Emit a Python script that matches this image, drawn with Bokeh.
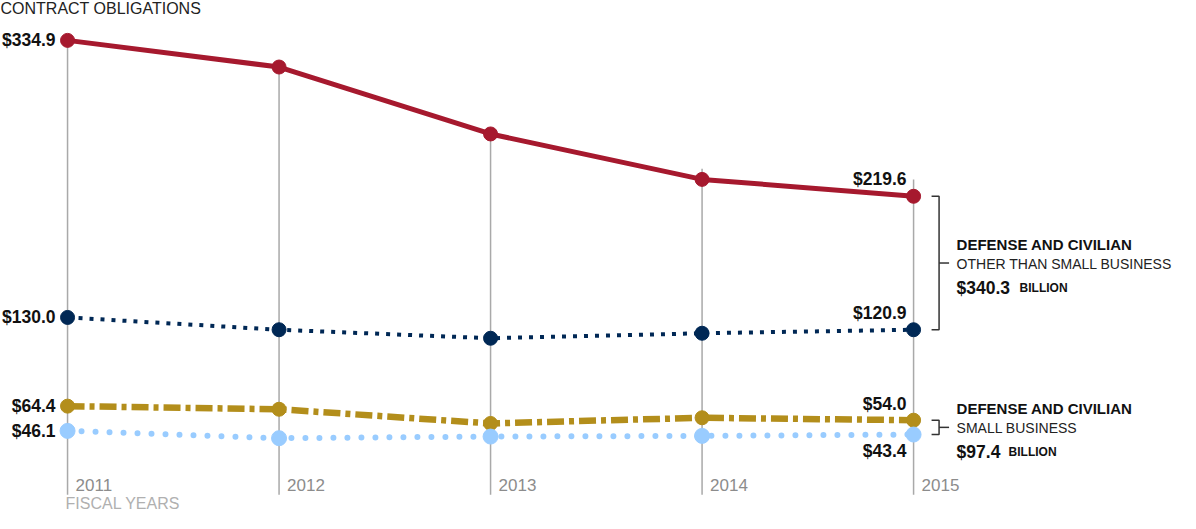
from bokeh.plotting import figure
from bokeh.embed import file_html
from bokeh.resources import INLINE
from bokeh.core.properties import value

# ---------------- data ----------------
years = [2011, 2012, 2013, 2014, 2015]
year_labels = ["2011", "2012", "2013", "2014", "2015"]
defense_other = [334.9, 315.2, 265.7, 232.1, 219.6]    # red
civilian_other = [130.0, 120.9, 114.6, 118.3, 120.9]   # navy
defense_small = [64.4, 62.1, 51.6, 55.8, 54.0]         # gold
civilian_small = [46.1, 40.7, 41.9, 42.4, 43.4]        # light blue
grid_top = [334.9, 315.2, 265.7, 240.0, 232.0]
total_other = "$340.3"
total_small = "$97.4"

# ---------------- layout ----------------
W, H = 1180, 513
X0, X1 = 2010.683, 2016.262
Y0, Y1 = -15.0, 364.4
PX = W / (X1 - X0)
PY = H / (Y1 - Y0)
TS = -6.5  # text baseline correction (px, downward positive)


def dx(px):
    return px / PX


def dy(px):  # screen px downward -> data units
    return -px / PY


def ty(px):  # text offset incl. correction
    return dy(px + TS)


RED = "#a6192e"
NAVY = "#002855"
GOLD = "#b38e1b"
LBLUE = "#99ccff"
FONT = value("Liberation Sans")

p = figure(width=W, height=H, x_range=(X0, X1), y_range=(Y0, Y1),
           x_axis_type=None, y_axis_type=None, toolbar_location=None,
           output_backend="svg", min_border=0, outline_line_color=None,
           background_fill_color="white", border_fill_color="white")
p.grid.visible = False

# vertical year lines
p.segment(x0=years, y0=[dy(1.5)] * len(years), x1=years, y1=grid_top,
          line_color="#a9a9a9", line_width=1.5)

# series lines
p.line(years, defense_other, line_color=RED, line_width=5)
p.line(years, civilian_other, line_color=NAVY, line_width=4, line_dash="4 7")
p.line(years, defense_small, line_color=GOLD, line_width=6.5, line_dash="17 5 5 5")
p.line(years, civilian_small, line_color=LBLUE, line_width=6, line_dash="0 14",
       line_cap="round")

p.scatter(years, defense_other, size=14, color=RED)
p.scatter(years, civilian_other, size=14, color=NAVY)
p.scatter(years, defense_small, size=14, color=GOLD)
p.scatter(years, civilian_small, size=15, color=LBLUE)

# title
p.text(x=[X0 + dx(0)], y=[Y1 + ty(22 - 8)], text=["CONTRACT OBLIGATIONS"],
       text_font=FONT, text_font_size="16px", text_color="#222222",
       text_align="left", text_baseline="alphabetic")

# start values (2011)
series = [defense_other, civilian_other, defense_small, civilian_small]
p.text(x=[years[0] - dx(12)] * 4, y=[s[0] + ty(6.5) for s in series],
       text=["$%.1f" % s[0] for s in series],
       text_font=FONT, text_font_size="17.5px", text_font_style="bold",
       text_color="#111111", text_align="right", text_baseline="alphabetic")

# end values (2015)
end_offsets = [-11, -10, -10, 23]
p.text(x=[years[-1] - dx(7)] * 4,
       y=[s[-1] + ty(o) for s, o in zip(series, end_offsets)],
       text=["$%.1f" % s[-1] for s in series],
       text_font=FONT, text_font_size="17.5px", text_font_style="bold",
       text_color="#111111", text_align="right", text_baseline="alphabetic")

# year labels
p.text(x=[yr + dx(8) for yr in years], y=[ty(-2)] * len(years), text=year_labels,
       text_font=FONT, text_font_size="17px", text_color="#8c8c8c",
       text_align="left", text_baseline="alphabetic")
p.text(x=[years[0] - dx(2)], y=[ty(16.5)], text=["FISCAL YEARS"],
       text_font=FONT, text_font_size="16px", text_color="#b0b0b0",
       text_align="left", text_baseline="alphabetic")

# brackets
xe = years[-1]
bl, bv, br = xe + dx(18), xe + dx(25.5), xe + dx(35.5)
top_hi, top_lo = defense_other[-1], civilian_other[-1]
bot_hi, bot_lo = defense_small[-1], civilian_small[-1]
mid_top = (top_hi + top_lo) / 2
mid_bot = (bot_hi + bot_lo) / 2
p.multi_line(xs=[[bl, bv, bv, bl], [bv, br], [bl, bv, bv, bl], [bv, br]],
             ys=[[top_hi, top_hi, top_lo, top_lo], [mid_top, mid_top],
                 [bot_hi, bot_hi, bot_lo, bot_lo], [mid_bot, mid_bot]],
             line_color="#333333", line_width=1.5)

tx = xe + dx(43)
for mid, line2, amount, bill_off in [(mid_top, "OTHER THAN SMALL BUSINESS", total_other, 106),
                                     (mid_bot, "SMALL BUSINESS", total_small, 95)]:
    p.text(x=[tx], y=[mid + ty(-12)], text=["DEFENSE AND CIVILIAN"],
           text_font=FONT, text_font_size="15px", text_font_style="bold",
           text_color="#111111", text_align="left", text_baseline="alphabetic")
    p.text(x=[tx], y=[mid + ty(7)], text=[line2],
           text_font=FONT, text_font_size="14px", text_color="#222222",
           text_align="left", text_baseline="alphabetic")
    p.text(x=[tx], y=[mid + ty(31.5)], text=[amount],
           text_font=FONT, text_font_size="17.5px", text_font_style="bold",
           text_color="#111111", text_align="left", text_baseline="alphabetic")
    p.text(x=[xe + dx(bill_off)], y=[mid + ty(31.5)], text=["BILLION"],
           text_font=FONT, text_font_size="12px", text_font_style="bold",
           text_color="#111111", text_align="left", text_baseline="alphabetic")

open("out.html", "w").write(file_html(p, INLINE))
